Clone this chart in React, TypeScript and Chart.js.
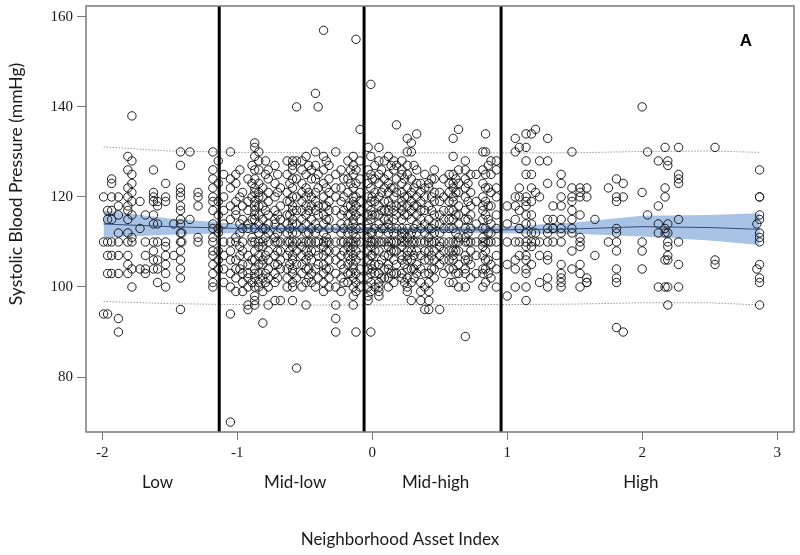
import React, { useEffect, useRef } from "react";
import { Chart, registerables } from "chart.js";

Chart.register(...registerables);

// ---------- data ----------
const xTicks = [-2, -1, 0, 1, 2, 3];
const yTicks = [80, 100, 120, 140, 160];
const xMin = -2.12;
const xMax = 3.125;
const yMin = 67.8;
const yMax = 162.4;

const dividerX = [-1.133, -0.06, 0.955];

const catLabels = ["Low", "Mid-low", "Mid-high", "High"];
const catPos = [-1.59, -0.57, 0.47, 1.99];
const xTitle = "Neighborhood Asset Index";
const yTitle = "Systolic Blood Pressure (mmHg)";
const panelLabel = "A";

// fitted line, confidence band and prediction limits
const fitX = [-1.99, -1.5, -1, -0.5, 0, 0.5, 1, 1.5, 2, 2.5, 2.87];
const fitMean = [114.0, 113.4, 113.0, 112.9, 112.8, 112.7, 112.7, 112.9, 113.4, 113.2, 112.8];
const fitLower = [111.0, 111.6, 112.0, 112.2, 112.2, 112.1, 111.9, 111.8, 111.2, 110.3, 109.3];
const fitUpper = [117.0, 115.2, 114.0, 113.5, 113.3, 113.3, 113.5, 114.3, 115.8, 116.0, 116.4];
const predUpper = [131.1, 130.2, 129.9, 129.8, 129.8, 129.8, 129.8, 129.8, 130.1, 130.2, 129.9];
const predLower = [96.8, 96.3, 96.1, 96.0, 96.0, 96.1, 96.1, 96.2, 96.5, 96.5, 96.0];

// neighbourhood columns: [asset index, systolic values]
const lowColumns: [number, number[]][] = [
  [-1.99, [120, 110, 94]],
  [-1.96, [117, 115, 110, 107, 103, 94]],
  [-1.93, [124, 123, 120, 117, 115, 110, 107, 103]],
  [-1.88, [120, 118, 116, 112, 110, 107, 103, 93, 90]],
  [-1.81, [129, 126, 122, 120, 118, 117, 115, 112, 110, 107, 105, 103]],
  [-1.78, [138, 128, 125, 123, 121, 119, 116, 111, 110, 104, 100]],
  [-1.72, [119, 113, 104]],
  [-1.68, [116, 110, 107, 104, 103]],
  [-1.62, [126, 121, 120, 119, 116, 114, 110, 108, 106, 104]],
  [-1.59, [119, 118, 114, 110, 106, 104, 101]],
  [-1.53, [123, 120, 119, 110, 109, 107, 105, 103, 100]],
  [-1.47, [114, 107]],
  [-1.42, [130, 127, 122, 121, 120, 118, 117, 115, 114, 112, 110, 108, 106, 104, 102, 95]],
  [-1.41, [112, 110]],
  [-1.35, [130, 115]],
  [-1.29, [121, 120, 118, 111, 110]],
  [-1.18, [130, 126, 124, 122, 120, 119, 117, 114, 113, 111, 110, 108, 107, 105, 103, 101, 100]],
  [-1.14, [128, 123, 119, 116, 113, 112, 108, 106, 104]],
];

const midLowColumns: [number, number[]][] = [
  [-1.1, [125, 120, 117, 114, 110, 107, 104, 101]],
  [-1.05, [130, 124, 122, 118, 115, 110, 108, 106, 103, 100, 94, 70]],
  [-1.01, [125, 123, 119, 117, 116, 111, 110, 106, 104, 102, 99]],
  [-0.98, [126, 120, 114, 112, 109, 107, 104]],
  [-0.96, [121, 118, 115, 113, 110, 108, 105, 103, 101, 99]],
  [-0.92, [124, 119, 117, 114, 113, 107, 105, 103, 102, 100, 96, 95]],
  [-0.89, [127, 123, 120, 115, 111, 110, 106, 101]],
  [-0.87, [132, 131, 129, 126, 124, 122, 121, 119, 118, 117, 116, 115, 113, 110, 108, 106, 104, 103, 102, 100, 98, 97, 96]],
  [-0.84, [130, 128, 126, 123, 121, 120, 118, 116, 114, 112, 110, 109, 107, 105, 103, 101, 100]],
  [-0.81, [122, 120, 118, 115, 113, 110, 109, 106, 105, 102, 99, 92]],
  [-0.79, [128, 125, 117, 113, 111, 107, 103, 101]],
  [-0.77, [126, 124, 121, 119, 116, 114, 112, 110, 108, 106, 104, 102, 100, 96]],
  [-0.72, [127, 123, 120, 117, 115, 114, 111, 110, 107, 105, 103, 101, 97]],
  [-0.7, [125, 121, 116, 112, 110, 108, 105, 102]],
  [-0.68, [122, 118, 115, 113, 110, 108, 106, 104, 97]],
  [-0.63, [128, 125, 121, 119, 116, 114, 112, 110, 107, 104, 102, 100]],
  [-0.61, [123, 119, 116, 113, 110, 108, 105]],
  [-0.59, [128, 127, 126, 124, 122, 120, 118, 117, 115, 114, 112, 110, 109, 107, 106, 104, 103, 101, 100, 97]],
  [-0.56, [140, 128, 124, 120, 117, 114, 112, 110, 108, 105, 102, 82]],
  [-0.52, [128, 126, 123, 121, 119, 117, 115, 113, 110, 109, 107, 105, 103, 100]],
  [-0.49, [129, 125, 122, 120, 118, 116, 114, 112, 110, 108, 106, 104, 101, 96]],
  [-0.47, [127, 121, 117, 112, 110, 107, 104, 102]],
  [-0.45, [126, 124, 120, 118, 115, 113, 110, 108, 106, 103, 101]],
  [-0.42, [143, 130, 127, 124, 121, 119, 117, 114, 112, 110, 108, 104, 100]],
  [-0.4, [140, 125, 122, 118, 116, 113, 110, 107, 105, 102]],
  [-0.36, [157, 129, 126, 123, 120, 118, 116, 114, 112, 110, 109, 107, 105, 103, 101, 99]],
  [-0.34, [128, 122, 118, 115, 111, 110, 108, 104]],
  [-0.32, [127, 124, 121, 119, 117, 115, 113, 110, 108, 106, 104, 102, 100]],
  [-0.27, [130, 125, 122, 120, 117, 113, 110, 108, 106, 103, 100, 96, 93, 90]],
  [-0.23, [126, 122, 119, 116, 114, 112, 110, 107, 105, 102, 99]],
  [-0.21, [124, 120, 117, 113, 110, 108, 104, 101]],
  [-0.18, [128, 124, 121, 118, 116, 114, 112, 110, 109, 107, 105, 103, 101]],
  [-0.16, [126, 123, 118, 116, 113, 110, 108, 106, 103]],
  [-0.14, [129, 127, 125, 122, 120, 119, 117, 115, 114, 112, 110, 109, 107, 105, 104, 102, 100, 98, 96]],
  [-0.12, [155, 126, 123, 120, 118, 116, 113, 111, 110, 108, 106, 103, 101, 99, 90]],
  [-0.09, [135, 128, 124, 121, 119, 117, 115, 113, 110, 107, 104, 102, 100]],
];

const midHighColumns: [number, number[]][] = [
  [-0.03, [131, 126, 123, 120, 118, 116, 114, 113, 111, 110, 108, 106, 104, 102, 100, 98, 97]],
  [-0.01, [145, 129, 125, 122, 119, 117, 115, 112, 110, 109, 107, 105, 103, 101, 99, 90]],
  [0.0, [124, 120, 116, 112, 110, 107, 104]],
  [0.02, [127, 124, 121, 119, 116, 113, 110, 108, 105, 103, 100]],
  [0.05, [131, 128, 125, 123, 120, 118, 116, 114, 112, 110, 108, 105, 103, 101, 100, 99, 98]],
  [0.07, [126, 121, 117, 113, 110, 106, 102]],
  [0.09, [128, 124, 122, 119, 117, 115, 113, 110, 107, 104, 102]],
  [0.12, [129, 125, 123, 121, 119, 117, 115, 114, 112, 110, 109, 107, 105, 104, 102, 100]],
  [0.14, [127, 122, 118, 113, 110, 108, 103]],
  [0.16, [128, 126, 122, 120, 117, 115, 112, 110, 108, 106, 103, 101]],
  [0.18, [136, 127, 124, 121, 118, 116, 113, 110, 108, 105, 103]],
  [0.22, [128, 126, 125, 123, 121, 119, 118, 117, 115, 113, 112, 111, 110, 109, 107, 106, 103, 102]],
  [0.24, [124, 120, 116, 112, 110, 105, 101]],
  [0.26, [133, 130, 127, 125, 122, 120, 118, 116, 113, 111, 110, 108, 107, 106, 104, 102, 100, 99]],
  [0.29, [132, 130, 124, 121, 119, 117, 115, 112, 110, 108, 106, 104, 101, 97]],
  [0.31, [127, 122, 118, 113, 110, 107, 104, 102]],
  [0.33, [134, 126, 123, 120, 118, 116, 114, 112, 110, 108, 105, 103]],
  [0.36, [123, 121, 119, 117, 115, 113, 110, 107, 104, 101, 99, 97]],
  [0.39, [125, 122, 120, 117, 114, 112, 110, 108, 106, 103, 100, 95]],
  [0.42, [123, 122, 118, 115, 113, 111, 110, 108, 106, 103, 101, 99, 97, 95]],
  [0.44, [124, 120, 117, 113, 110, 107, 104]],
  [0.46, [126, 124, 121, 119, 116, 114, 112, 110, 108, 106, 104, 102]],
  [0.5, [121, 119, 116, 114, 112, 110, 109, 107, 105, 95]],
  [0.53, [124, 120, 117, 115, 113, 110, 108, 106, 103]],
  [0.57, [125, 123, 121, 119, 117, 115, 113, 110, 108, 106, 104, 101]],
  [0.6, [133, 129, 125, 123, 122, 120, 119, 117, 115, 113, 110, 108, 107, 106, 104, 101]],
  [0.62, [124, 121, 116, 112, 110, 108, 103]],
  [0.64, [135, 126, 123, 121, 118, 116, 114, 111, 110, 108, 105, 103, 100]],
  [0.69, [128, 126, 124, 122, 120, 117, 115, 113, 111, 110, 107, 106, 104, 103, 100, 89]],
  [0.71, [123, 119, 115, 112, 110, 106]],
  [0.73, [125, 121, 118, 116, 113, 110, 108, 105, 102]],
  [0.77, [125, 119, 114, 110, 107, 103]],
  [0.82, [130, 126, 123, 120, 118, 117, 115, 113, 111, 110, 109, 107, 104, 103, 100]],
  [0.84, [134, 130, 125, 122, 119, 116, 113, 110, 108, 106, 104, 101]],
  [0.86, [127, 122, 118, 115, 112, 110, 106, 103]],
  [0.88, [128, 125, 121, 118, 114, 112, 110, 105, 102]],
  [0.92, [128, 126, 122, 120, 116, 113, 110, 107, 104, 100]],
];

const highColumns: [number, number[]][] = [
  [1.0, [118, 114, 110, 105, 98]],
  [1.06, [133, 130, 120, 118, 115, 110, 106, 104, 100]],
  [1.09, [131, 122, 120, 117, 113, 113, 110, 107]],
  [1.14, [134, 131, 128, 125, 120, 119, 118, 116, 114, 112, 110, 109, 107, 106, 104, 103, 100, 97]],
  [1.18, [134, 125, 122, 119, 116, 114, 112, 110, 109, 105]],
  [1.21, [135, 121, 112, 110]],
  [1.24, [128, 120, 110, 107, 101]],
  [1.3, [133, 128, 123, 115, 113, 112, 110, 107, 106, 102, 100]],
  [1.34, [118, 115, 113, 113, 110]],
  [1.4, [125, 123, 120, 118, 115, 113, 112, 110, 105, 103, 102, 101, 100]],
  [1.48, [130, 122, 120, 119, 117, 115, 113, 112, 108, 104]],
  [1.54, [122, 121, 120, 116, 111, 110, 109, 105, 103, 100]],
  [1.59, [122, 120, 102, 101, 101]],
  [1.65, [115, 107]],
  [1.75, [122, 110]],
  [1.81, [124, 120, 119, 113, 112, 110, 108, 104, 102, 101, 91]],
  [1.86, [123, 120, 90]],
  [2.0, [140, 121, 110, 108, 104]],
  [2.04, [130, 116]],
  [2.12, [128, 118, 114, 112, 100]],
  [2.17, [131, 122, 120, 113, 112, 106, 100]],
  [2.19, [128, 127, 114, 112, 110, 109, 107, 106, 100, 96]],
  [2.27, [131, 125, 124, 123, 115, 110, 105, 100]],
  [2.54, [131, 106, 105]],
  [2.85, [114, 104]],
  [2.87, [126, 120, 120, 116, 115, 112, 111, 110, 105, 102, 101, 96]],
];

// ---------- helpers ----------
const toPoints = (cols: [number, number[]][]) =>
  cols.flatMap(([x, ys]) => ys.map((y) => ({ x, y })));
const curve = (ys: number[]) => fitX.map((x, i) => ({ x, y: ys[i] }));

const SANS = "Lato, 'Open Sans', sans-serif";
const SERIF = "'Liberation Serif', 'DejaVu Serif', serif";

const textPlugin = {
  id: "panelText",
  afterDraw(chart: any) {
    const { ctx, chartArea: a, scales } = chart;
    const xs = scales.x;
    ctx.save();
    ctx.strokeStyle = "#7a7a7a";
    ctx.lineWidth = 1.5;
    ctx.strokeRect(a.left, a.top, a.right - a.left, a.bottom - a.top);

    ctx.fillStyle = "#1a1a1a";
    ctx.textAlign = "center";
    ctx.textBaseline = "middle";
    ctx.font = `17px ${SANS}`;
    catLabels.forEach((t, i) => ctx.fillText(t, xs.getPixelForValue(catPos[i]), 483));
    ctx.fillText(xTitle, 400, 540);

    ctx.font = `bold 17px 'Liberation Sans', Arial, sans-serif`;
    ctx.fillStyle = "#000";
    ctx.fillText(panelLabel, 746, 41);

    ctx.fillStyle = "#1a1a1a";
    ctx.font = `17.5px ${SANS}`;
    ctx.translate(16, 184);
    ctx.rotate(-Math.PI / 2);
    ctx.fillText(yTitle, 0, 0);
    ctx.restore();
  },
};

export default function App() {
  const ref = useRef<HTMLCanvasElement | null>(null);

  useEffect(() => {
    document.body.style.margin = "0";
    const canvas = ref.current;
    if (!canvas) return;

    const pointStyle = {
      type: "scatter" as const,
      pointRadius: 4.2,
      pointHoverRadius: 4.2,
      borderWidth: 1,
      pointBorderColor: "rgba(20,20,20,0.95)",
      pointBackgroundColor: "rgba(0,0,0,0)",
      borderColor: "rgba(20,20,20,0.95)",
      backgroundColor: "rgba(0,0,0,0)",
      order: 2,
    };

    const datasets: any[] = [];
    dividerX.forEach((x) =>
      datasets.push({
        type: "line",
        data: [
          { x, y: yMin },
          { x, y: yMax },
        ],
        borderColor: "#000",
        borderWidth: 3,
        pointRadius: 0,
        fill: false,
        order: 0,
      })
    );
    datasets.push({
      type: "line",
      data: curve(fitMean),
      borderColor: "#2f4a78",
      borderWidth: 1,
      pointRadius: 0,
      fill: false,
      order: 1,
    });
    datasets.push({ ...pointStyle, data: toPoints(lowColumns) });
    datasets.push({ ...pointStyle, data: toPoints(midLowColumns) });
    datasets.push({ ...pointStyle, data: toPoints(midHighColumns) });
    datasets.push({ ...pointStyle, data: toPoints(highColumns) });
    [predUpper, predLower].forEach((ys) =>
      datasets.push({
        type: "line",
        data: curve(ys),
        borderColor: "#9a9a9a",
        borderWidth: 1,
        borderDash: [1.5, 1.5],
        pointRadius: 0,
        fill: false,
        order: 3,
      })
    );
    datasets.push({
      type: "line",
      data: curve(fitUpper),
      borderColor: "rgba(0,0,0,0)",
      borderWidth: 0,
      pointRadius: 0,
      backgroundColor: "rgba(140,175,222,0.75)",
      fill: "+1",
      order: 4,
    });
    datasets.push({
      type: "line",
      data: curve(fitLower),
      borderColor: "rgba(0,0,0,0)",
      borderWidth: 0,
      pointRadius: 0,
      fill: false,
      order: 5,
    });

    const chart = new Chart(canvas, {
      type: "scatter",
      data: { datasets },
      plugins: [textPlugin],
      options: {
        responsive: false,
        animation: false,
        events: [],
        layout: { padding: { left: 0, right: 6, top: 6, bottom: 0 } },
        plugins: { legend: { display: false }, tooltip: { enabled: false } },
        scales: {
          x: {
            type: "linear",
            min: xMin,
            max: xMax,
            afterBuildTicks: (s: any) => {
              s.ticks = xTicks.map((value) => ({ value }));
            },
            afterFit: (s: any) => {
              s.height = 123;
              s.paddingLeft = 0;
              s.paddingRight = 0;
            },
            grid: { drawOnChartArea: false, drawTicks: true, tickLength: 8, color: "#7a7a7a", lineWidth: 1 },
            border: { display: false },
            ticks: {
              font: { family: SERIF, size: 15 },
              color: "#1a1a1a",
              padding: 4,
              maxRotation: 0,
              callback: (v: any) => String(v),
            },
          },
          y: {
            type: "linear",
            min: yMin,
            max: yMax,
            afterBuildTicks: (s: any) => {
              s.ticks = yTicks.map((value) => ({ value }));
            },
            afterFit: (s: any) => {
              s.width = 86;
              s.paddingTop = 0;
              s.paddingBottom = 0;
            },
            grid: { drawOnChartArea: false, drawTicks: true, tickLength: 9, color: "#7a7a7a", lineWidth: 1 },
            border: { display: false },
            ticks: {
              font: { family: SERIF, size: 15 },
              color: "#1a1a1a",
              padding: 4,
              callback: (v: any) => String(v),
            },
          },
        },
      },
    });
    return () => chart.destroy();
  }, []);

  return (
    <div style={{ width: 800, height: 555, background: "#fff" }}>
      <canvas ref={ref} width={800} height={555} style={{ display: "block" }} />
    </div>
  );
}
